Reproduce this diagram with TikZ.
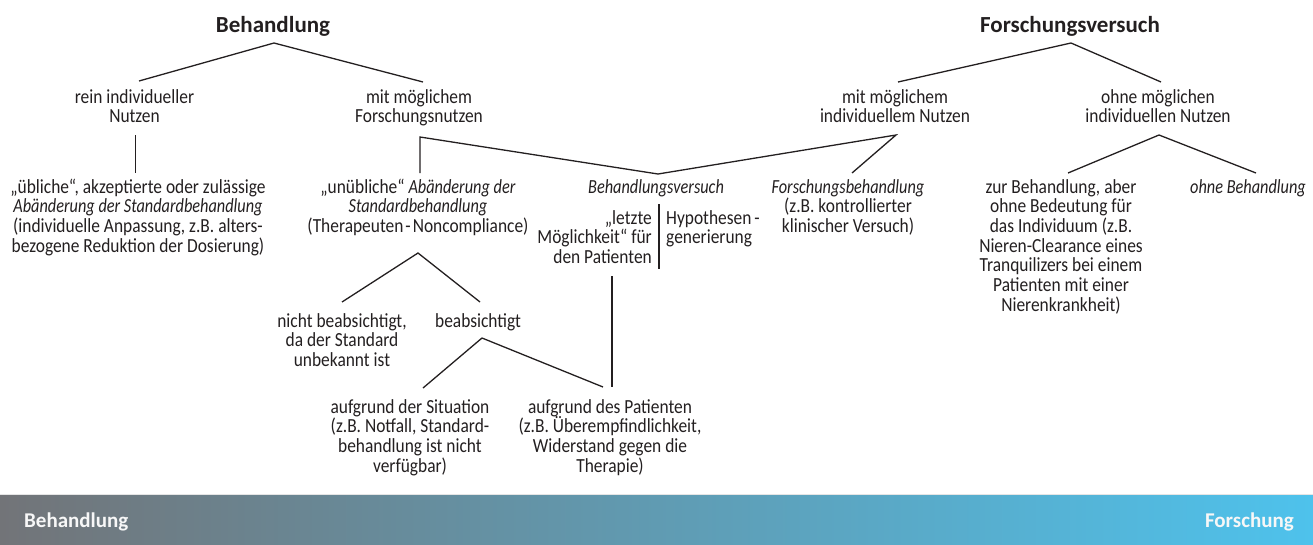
\documentclass[tikz,border=0pt]{standalone}
\usepackage{fontspec}
\setmainfont{Carlito}[UprightFeatures={FakeStretch=0.87}, ItalicFeatures={FakeStretch=0.815}]
\definecolor{ink}{HTML}{231F20}
\definecolor{barL}{RGB}{114,116,120}
\definecolor{barM}{RGB}{130,152,166}
\definecolor{barR}{RGB}{78,194,236}
\newcommand{\bodyfont}{\fontsize{20}{19.7}\selectfont\lineskiplimit=-20pt\relax}
\begin{document}
\begin{tikzpicture}[x=1pt,y=-1pt,
  txt/.style={font=\bodyfont, inner sep=0pt, align=center, anchor=base, text=ink},
  ttl/.style={font=\bfseries\fontsize{23}{26}\selectfont, inner sep=0pt, anchor=base, text=ink},
  bartxt/.style={font=\bfseries\fontsize{21}{24}\selectfont, inner sep=0pt, text=white!94!gray},
  conn/.style={draw=ink, line width=1.3pt}]
\useasboundingbox (0,0) rectangle (1313,544);
% bottom bar
\shade[left color=barL, middle color=barM, right color=barR] (0,494) rectangle (1313,544);
\draw[white!80!gray, line width=1pt] (0,494) -- (1313,494);
\node[bartxt, anchor=base west] (barB) at (24,527) {Behandlung};
\node[bartxt, anchor=base east] (barF) at (1294,527) {Forschung};
% titles
\node[ttl] (T1) at (273,32) {Behandlung};
\node[ttl] (T2) at (1070,32) {Forschungsversuch};
% level 1 (anchor = baseline of last line)
\node[txt] (A) at (134.5,122.7) {rein individueller\\Nutzen};
\node[txt] (B) at (419,122.7) {mit möglichem\\Forschungsnutzen};
\node[txt] (C) at (895,122.7) {mit möglichem\\individuellem Nutzen};
\node[txt] (D) at (1158,122.7) {ohne möglichen\\individuellen Nutzen};
% level 2
\node[txt] (E) at (138,252.1) {„übliche“, akzeptierte oder zulässige\\\textit{Abänderung der Standardbehandlung}\\(individuelle Anpassung, z.B. alters-\\bezogene Reduktion der Dosierung)};
\node[txt] (F) at (418,232.4) {„unübliche“ \textit{Abänderung der}\\\textit{Standardbehandlung}\\(Therapeuten\hspace{0.1em}-\hspace{0.1em}Noncompliance)};
\node[txt] (G) at (656,193) {\textit{Behandlungsversuch}};
\node[txt] (H) at (848,232.4) {\textit{Forschungsbehandlung}\\(z.B. kontrollierter\\klinischer Versuch)};
\node[txt] (I) at (1061,311.2) {zur Behandlung, aber\\ohne Bedeutung für\\das Individuum (z.B.\\Nieren-Clearance eines\\Tranquilizers bei einem\\Patienten mit einer\\Nierenkrankheit)};
\node[txt] (J) at (1248,193) {\textit{ohne Behandlung}};
\node[txt, align=right, anchor=base east] (LM) at (652,263.4) {„letzte\\Möglichkeit“ für\\den Patienten};
\node[txt, align=left, anchor=base west] (HY) at (666,243.7) {Hypothesen\hspace{0.15em}-\\generierung};
% level 3
\node[txt] (K) at (342,366.4) {nicht beabsichtigt,\\da der Standard\\unbekannt ist};
\node[txt] (L) at (478,327) {beabsichtigt};
% level 4
\node[txt] (M) at (410,472.1) {aufgrund der Situation\\(z.B. Notfall, Standard-\\behandlung ist nicht\\verfügbar)};
\node[txt] (N) at (610,472.1) {aufgrund des Patienten\\(z.B. Überempfindlichkeit,\\Widerstand gegen die\\Therapie)};
% connector points
\coordinate (t1) at (274,43);
\coordinate (t1l) at (139,81);
\coordinate (t1r) at (423,82);
\coordinate (t2) at (1071,43);
\coordinate (t2l) at (898,82);
\coordinate (t2r) at (1161,82);
\coordinate (a1) at (135.7,135);
\coordinate (a2) at (135.7,173);
\coordinate (b1) at (420,137);
\coordinate (b2) at (420,173);
\coordinate (g1) at (658,174);
\coordinate (c1) at (896,135);
\coordinate (h1) at (852,173);
\coordinate (d1) at (1159,135);
\coordinate (i1) at (1068,173);
\coordinate (j1) at (1256,173);
\coordinate (f1) at (418,253);
\coordinate (k1) at (342,302);
\coordinate (l1) at (480,302);
\coordinate (l2) at (482,338);
\coordinate (m1) at (423,388);
\coordinate (n1) at (603,387);
\coordinate (p1) at (612,276);
\coordinate (p2) at (612,387);
\coordinate (v1) at (659,204);
\coordinate (v2) at (659,269);
% connectors
\draw[conn] (t1l) -- (t1) -- (t1r);
\draw[conn] (t2l) -- (t2) -- (t2r);
\draw[conn] (a1) -- (a2);
\draw[conn] (b2) -- (b1) -- (g1) -- (c1) -- (h1);
\draw[conn] (i1) -- (d1) -- (j1);
\draw[conn] (k1) -- (f1) -- (l1);
\draw[conn] (m1) -- (l2) -- (n1);
\draw[conn] (p1) -- (p2);
\draw[conn] (v1) -- (v2);
\end{tikzpicture}
\end{document}
